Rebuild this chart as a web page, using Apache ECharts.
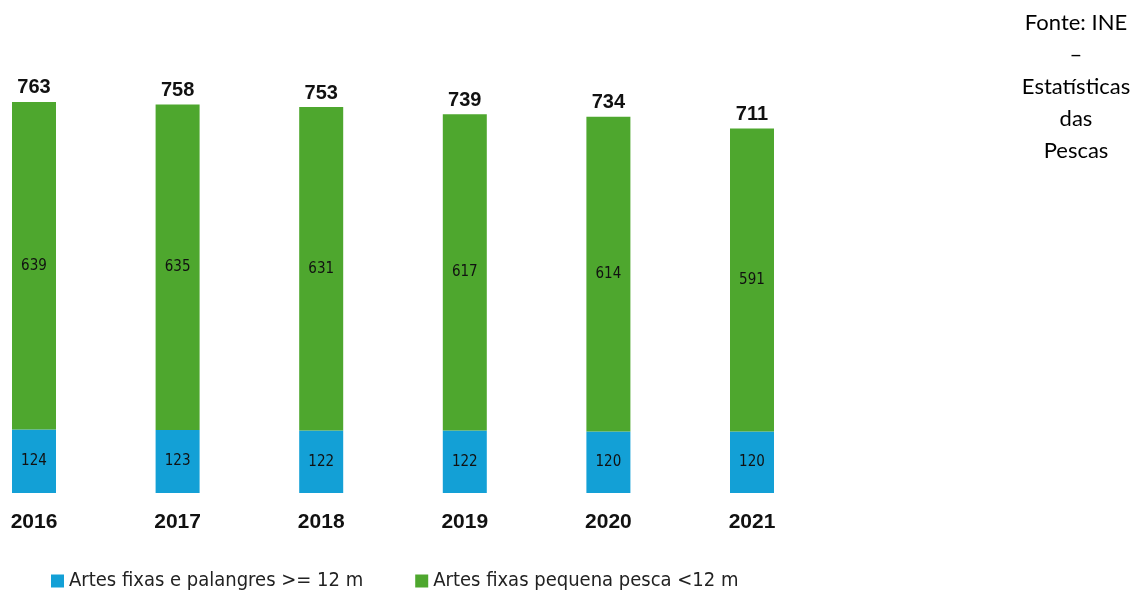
<!DOCTYPE html>
<html><head><meta charset="utf-8">
<script src="https://cdn.jsdelivr.net/npm/echarts@6/dist/echarts.min.js"></script>
<style>html,body{margin:0;padding:0;background:#fff}#c{width:1145px;height:590px}</style>
</head><body><div id="c"></div>
<script>
const categories = ['2016','2017','2018','2019','2020','2021'];
const seriesNames = ['Artes fixas e palangres >= 12 m','Artes fixas pequena pesca <12 m'];
const fixasGrandes = [124,123,122,122,120,120];
const fixasPequenas = [639,635,631,617,614,591];
const totals = [763,758,753,739,734,711];

const narrow = "'Liberation Sans Narrow','Arial Narrow','DejaVu Sans Condensed','Roboto',sans-serif";
const chart = echarts.init(document.getElementById('c'));
const insideLabel = {show:true, position:'inside', color:'#111', fontSize:15, fontFamily:narrow};
chart.setOption({
  animation:false,
  grid:{left:34, width:718, top:83, bottom:97},
  legend:{
    data:seriesNames, left:46, top:566, itemWidth:13, itemHeight:13, itemGap:52,
    icon:'rect',
    textStyle:{fontSize:20, fontFamily:narrow, color:'#222'}
  },
  graphic:[{
    type:'text', x:1076, y:7,
    style:{
      rich:{
        b:{fontSize:22, fontFamily:'Lato', color:'#000', lineHeight:32},
        n:{fontSize:22, fontFamily:'Lato', color:'#333', lineHeight:32}
      },
      text:'{b|Fonte:}{n| INE}\n{n|–}\n{n|Estatísticas}\n{n|das}\n{n|Pescas}',
      align:'center'
    }
  }],
  xAxis:{type:'category', data:categories, boundaryGap:false,
    axisLine:{show:false}, axisTick:{show:false},
    axisLabel:{fontSize:21, fontWeight:'bold', color:'#111', fontFamily:'Liberation Sans', margin:19}},
  yAxis:{type:'value', min:0, max:800, show:false, splitLine:{show:false}},
  series:[
    {name:seriesNames[0], type:'bar', stack:'s', data:fixasGrandes, barWidth:44, clip:false,
     itemStyle:{color:'#13A0D6'}, label:insideLabel},
    {name:seriesNames[1], type:'bar', stack:'s', data:fixasPequenas, barWidth:44, clip:false,
     itemStyle:{color:'#4EA72E'}, label:insideLabel},
    {name:'Total', type:'bar', stack:'s', data:totals.map(()=>0), barWidth:44, clip:false,
     itemStyle:{color:'transparent'},
     label:{show:true, position:'top', distance:4, fontSize:20, fontWeight:'bold', color:'#111',
       fontFamily:'Liberation Sans', formatter:p=>totals[p.dataIndex]}}
  ]
});
</script></body></html>
